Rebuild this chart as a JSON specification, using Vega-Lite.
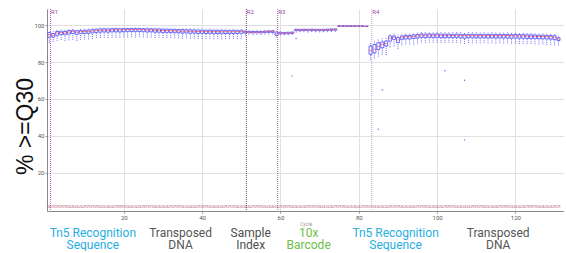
{
  "$schema": "https://vega.github.io/schema/vega-lite/v6.json",
  "padding": {"left": 14, "top": 8, "right": 0, "bottom": 0},
  "spacing": 1,
  "background": "white",
  "resolve": {"scale": {"color": "independent"}},
  "config": {"view": {"stroke": null}, "font": "Roboto"},
  "datasets": {
    "box": [
      {"c":1,"lo":90.5,"q1":93.5,"md":95,"q3":96,"hi":97,"n":"26"},
      {"c":2,"lo":91,"q1":93.5,"md":94.5,"q3":95.5,"hi":96.8,"n":"29"},
      {"c":3,"lo":91.5,"q1":94.5,"md":95.8,"q3":96.6,"hi":97.4,"n":"29"},
      {"c":4,"lo":92,"q1":95,"md":96,"q3":96.8,"hi":97.6,"n":"29"},
      {"c":5,"lo":91.5,"q1":94.8,"md":95.8,"q3":96.6,"hi":97.6,"n":"29"},
      {"c":6,"lo":91.8,"q1":95.2,"md":96.3,"q3":97.1,"hi":98,"n":"26"},
      {"c":7,"lo":92,"q1":95.5,"md":96.6,"q3":97.3,"hi":98.1,"n":"26"},
      {"c":8,"lo":91.5,"q1":95,"md":96.2,"q3":97,"hi":97.9,"n":"26"},
      {"c":9,"lo":92,"q1":95.4,"md":96.5,"q3":97.2,"hi":98,"n":"26"},
      {"c":10,"lo":92.2,"q1":95.5,"md":96.6,"q3":97.3,"hi":98.1,"n":"29"},
      {"c":11,"lo":92.3,"q1":95.6,"md":96.7,"q3":97.4,"hi":98.2,"n":"29"},
      {"c":12,"lo":92.5,"q1":95.8,"md":96.9,"q3":97.6,"hi":98.3,"n":"29"},
      {"c":13,"lo":93,"q1":96,"md":97.2,"q3":97.9,"hi":98.6,"n":"29"},
      {"c":14,"lo":93,"q1":96.2,"md":97.3,"q3":98,"hi":98.7,"n":"26"},
      {"c":15,"lo":93.2,"q1":96.3,"md":97.4,"q3":98.1,"hi":98.7,"n":"26"},
      {"c":16,"lo":93,"q1":96.2,"md":97.3,"q3":98,"hi":98.7,"n":"26"},
      {"c":17,"lo":93.2,"q1":96.4,"md":97.5,"q3":98.1,"hi":98.8,"n":"26"},
      {"c":18,"lo":93.3,"q1":96.4,"md":97.5,"q3":98.2,"hi":98.8,"n":"29"},
      {"c":19,"lo":93.2,"q1":96.3,"md":97.4,"q3":98.1,"hi":98.8,"n":"29"},
      {"c":20,"lo":93.4,"q1":96.5,"md":97.6,"q3":98.2,"hi":98.8,"n":"29"},
      {"c":21,"lo":93.4,"q1":96.5,"md":97.6,"q3":98.2,"hi":98.9,"n":"26"},
      {"c":22,"lo":93.5,"q1":96.6,"md":97.7,"q3":98.3,"hi":98.9,"n":"26"},
      {"c":23,"lo":93.3,"q1":96.5,"md":97.6,"q3":98.2,"hi":98.9,"n":"26"},
      {"c":24,"lo":93.5,"q1":96.6,"md":97.7,"q3":98.3,"hi":98.9,"n":"26"},
      {"c":25,"lo":93.4,"q1":96.5,"md":97.6,"q3":98.2,"hi":98.8,"n":"29"},
      {"c":26,"lo":93.2,"q1":96.3,"md":97.4,"q3":98.1,"hi":98.8,"n":"29"},
      {"c":27,"lo":93.3,"q1":96.4,"md":97.5,"q3":98.1,"hi":98.8,"n":"29"},
      {"c":28,"lo":93.1,"q1":96.2,"md":97.3,"q3":98,"hi":98.7,"n":"26"},
      {"c":29,"lo":93.2,"q1":96.2,"md":97.3,"q3":98,"hi":98.7,"n":"26"},
      {"c":30,"lo":93,"q1":96,"md":97.1,"q3":97.9,"hi":98.6,"n":"26"},
      {"c":31,"lo":93.1,"q1":96.1,"md":97.2,"q3":97.9,"hi":98.6,"n":"26"},
      {"c":32,"lo":93,"q1":96,"md":97,"q3":97.8,"hi":98.5,"n":"29"},
      {"c":33,"lo":92.8,"q1":95.9,"md":96.9,"q3":97.7,"hi":98.5,"n":"29"},
      {"c":34,"lo":92.9,"q1":95.9,"md":96.9,"q3":97.7,"hi":98.4,"n":"29"},
      {"c":35,"lo":92.7,"q1":95.7,"md":96.8,"q3":97.6,"hi":98.4,"n":"26"},
      {"c":36,"lo":92.8,"q1":95.8,"md":96.8,"q3":97.6,"hi":98.4,"n":"26"},
      {"c":37,"lo":92.6,"q1":95.6,"md":96.7,"q3":97.5,"hi":98.3,"n":"26"},
      {"c":38,"lo":92.7,"q1":95.7,"md":96.7,"q3":97.5,"hi":98.3,"n":"26"},
      {"c":39,"lo":92.5,"q1":95.5,"md":96.6,"q3":97.4,"hi":98.3,"n":"29"},
      {"c":40,"lo":92.6,"q1":95.6,"md":96.6,"q3":97.4,"hi":98.2,"n":"29"},
      {"c":41,"lo":92.5,"q1":95.5,"md":96.5,"q3":97.3,"hi":98.2,"n":"29"},
      {"c":42,"lo":92.6,"q1":95.6,"md":96.6,"q3":97.4,"hi":98.2,"n":"26"},
      {"c":43,"lo":92.4,"q1":95.4,"md":96.5,"q3":97.3,"hi":98.1,"n":"26"},
      {"c":44,"lo":92.5,"q1":95.5,"md":96.5,"q3":97.3,"hi":98.1,"n":"26"},
      {"c":45,"lo":92.3,"q1":95.4,"md":96.4,"q3":97.2,"hi":98.1,"n":"26"},
      {"c":46,"lo":92.5,"q1":95.5,"md":96.5,"q3":97.3,"hi":98.1,"n":"29"},
      {"c":47,"lo":92.4,"q1":95.4,"md":96.4,"q3":97.2,"hi":98,"n":"29"},
      {"c":48,"lo":92.6,"q1":95.5,"md":96.5,"q3":97.3,"hi":98.1,"n":"29"},
      {"c":49,"lo":92.5,"q1":95.5,"md":96.5,"q3":97.2,"hi":98,"n":"26"},
      {"c":50,"lo":92.7,"q1":95.6,"md":96.6,"q3":97.3,"hi":98,"n":"26"},
      {"c":51,"lo":94.5,"q1":95.8,"md":96.3,"q3":96.8,"hi":97.4,"n":"26"},
      {"c":52,"lo":94.8,"q1":95.9,"md":96.3,"q3":96.7,"hi":97.3,"n":"26"},
      {"c":53,"lo":94.6,"q1":95.8,"md":96.2,"q3":96.6,"hi":97.2,"n":"29"},
      {"c":54,"lo":94.8,"q1":95.9,"md":96.3,"q3":96.7,"hi":97.3,"n":"29"},
      {"c":55,"lo":94.7,"q1":95.8,"md":96.2,"q3":96.6,"hi":97.2,"n":"29"},
      {"c":56,"lo":94.9,"q1":96,"md":96.4,"q3":96.8,"hi":97.4,"n":"26"},
      {"c":57,"lo":95,"q1":96.1,"md":96.5,"q3":96.9,"hi":97.5,"n":"26"},
      {"c":58,"lo":95,"q1":96.1,"md":96.6,"q3":97,"hi":97.5,"n":"26"},
      {"c":59,"lo":93.5,"q1":94.5,"md":95.3,"q3":96.3,"hi":97,"n":"26"},
      {"c":60,"lo":94.5,"q1":95.3,"md":95.8,"q3":96.2,"hi":96.8,"n":"29"},
      {"c":61,"lo":94.6,"q1":95.3,"md":95.7,"q3":96.1,"hi":96.7,"n":"29"},
      {"c":62,"lo":94.7,"q1":95.4,"md":95.8,"q3":96.2,"hi":96.8,"n":"29"},
      {"c":63,"lo":94.8,"q1":95.5,"md":95.9,"q3":96.3,"hi":96.9,"n":"26"},
      {"c":64,"lo":96,"q1":97,"md":97.4,"q3":97.8,"hi":98.3,"n":"26"},
      {"c":65,"lo":96.2,"q1":97,"md":97.4,"q3":97.8,"hi":98.3,"n":"26"},
      {"c":66,"lo":96.2,"q1":97.1,"md":97.5,"q3":97.9,"hi":98.3,"n":"26"},
      {"c":67,"lo":96,"q1":97,"md":97.4,"q3":97.8,"hi":98.2,"n":"29"},
      {"c":68,"lo":96.3,"q1":97.1,"md":97.5,"q3":97.9,"hi":98.4,"n":"29"},
      {"c":69,"lo":96.2,"q1":97,"md":97.4,"q3":97.8,"hi":98.3,"n":"29"},
      {"c":70,"lo":96.1,"q1":97,"md":97.4,"q3":97.8,"hi":98.2,"n":"26"},
      {"c":71,"lo":96.2,"q1":97,"md":97.4,"q3":97.8,"hi":98.2,"n":"26"},
      {"c":72,"lo":96.2,"q1":97.1,"md":97.5,"q3":97.9,"hi":98.3,"n":"26"},
      {"c":73,"lo":96.3,"q1":97.2,"md":97.6,"q3":98,"hi":98.4,"n":"26"},
      {"c":74,"lo":96.4,"q1":97.3,"md":97.7,"q3":98,"hi":98.4,"n":"29"},
      {"c":75,"lo":99.2,"q1":99.45,"md":99.55,"q3":99.65,"hi":99.8,"n":"29"},
      {"c":76,"lo":99.2,"q1":99.45,"md":99.55,"q3":99.65,"hi":99.8,"n":"29"},
      {"c":77,"lo":99.2,"q1":99.45,"md":99.55,"q3":99.65,"hi":99.8,"n":"26"},
      {"c":78,"lo":99.2,"q1":99.45,"md":99.55,"q3":99.65,"hi":99.8,"n":"26"},
      {"c":79,"lo":99.2,"q1":99.45,"md":99.55,"q3":99.65,"hi":99.8,"n":"26"},
      {"c":80,"lo":99.2,"q1":99.45,"md":99.55,"q3":99.65,"hi":99.8,"n":"26"},
      {"c":81,"lo":99.1,"q1":99.4,"md":99.5,"q3":99.6,"hi":99.8,"n":"29"},
      {"c":82,"lo":99,"q1":99.3,"md":99.4,"q3":99.5,"hi":99.7,"n":"29"},
      {"c":83,"lo":81,"q1":84.2,"md":86.4,"q3":88.7,"hi":90.5,"n":"29"},
      {"c":84,"lo":82,"q1":85,"md":87,"q3":89.5,"hi":91.5,"n":"26"},
      {"c":85,"lo":83,"q1":86.9,"md":88.5,"q3":90.5,"hi":92.5,"n":"26"},
      {"c":86,"lo":84,"q1":87.8,"md":89.5,"q3":90.9,"hi":93,"n":"26"},
      {"c":87,"lo":85,"q1":88.7,"md":90,"q3":91.4,"hi":93.5,"n":"26"},
      {"c":88,"lo":88,"q1":91.4,"md":93,"q3":94.2,"hi":95.5,"n":"29"},
      {"c":89,"lo":88.5,"q1":92.3,"md":93.5,"q3":94.2,"hi":95.5,"n":"29"},
      {"c":90,"lo":87,"q1":90.5,"md":92,"q3":93.3,"hi":95,"n":"29"},
      {"c":91,"lo":89,"q1":92.3,"md":93.5,"q3":94.2,"hi":95.6,"n":"26"},
      {"c":92,"lo":89.5,"q1":92.5,"md":93.8,"q3":94.5,"hi":95.8,"n":"26"},
      {"c":93,"lo":89.5,"q1":92.5,"md":93.8,"q3":94.5,"hi":95.8,"n":"26"},
      {"c":94,"lo":89.5,"q1":92.8,"md":94,"q3":94.8,"hi":96,"n":"26"},
      {"c":95,"lo":90,"q1":93,"md":94.2,"q3":95,"hi":96.2,"n":"29"},
      {"c":96,"lo":90.5,"q1":93.4,"md":94.7,"q3":95.3,"hi":96.3,"n":"29"},
      {"c":97,"lo":90.4,"q1":93.3,"md":94.6,"q3":95.2,"hi":96.3,"n":"29"},
      {"c":98,"lo":90.6,"q1":93.4,"md":94.7,"q3":95.3,"hi":96.4,"n":"26"},
      {"c":99,"lo":90.5,"q1":93.3,"md":94.6,"q3":95.2,"hi":96.3,"n":"26"},
      {"c":100,"lo":90.5,"q1":93.4,"md":94.7,"q3":95.3,"hi":96.4,"n":"26"},
      {"c":101,"lo":90.4,"q1":93.3,"md":94.6,"q3":95.2,"hi":96.3,"n":"26"},
      {"c":102,"lo":90.3,"q1":93.2,"md":94.5,"q3":95.2,"hi":96.2,"n":"29"},
      {"c":103,"lo":90.5,"q1":93.3,"md":94.6,"q3":95.2,"hi":96.3,"n":"29"},
      {"c":104,"lo":90.3,"q1":93.2,"md":94.5,"q3":95.1,"hi":96.2,"n":"29"},
      {"c":105,"lo":90.4,"q1":93.3,"md":94.6,"q3":95.2,"hi":96.3,"n":"26"},
      {"c":106,"lo":90.2,"q1":93.1,"md":94.4,"q3":95.1,"hi":96.2,"n":"26"},
      {"c":107,"lo":89.8,"q1":92.9,"md":94.3,"q3":95,"hi":96.1,"n":"26"},
      {"c":108,"lo":90.3,"q1":93.2,"md":94.5,"q3":95.1,"hi":96.2,"n":"26"},
      {"c":109,"lo":90.2,"q1":93.1,"md":94.4,"q3":95.1,"hi":96.2,"n":"29"},
      {"c":110,"lo":90.3,"q1":93.2,"md":94.5,"q3":95.1,"hi":96.2,"n":"29"},
      {"c":111,"lo":90.1,"q1":93.1,"md":94.4,"q3":95,"hi":96.1,"n":"29"},
      {"c":112,"lo":90.3,"q1":93.2,"md":94.5,"q3":95.1,"hi":96.2,"n":"26"},
      {"c":113,"lo":90.1,"q1":93,"md":94.4,"q3":95,"hi":96.1,"n":"26"},
      {"c":114,"lo":90.2,"q1":93.1,"md":94.4,"q3":95.1,"hi":96.2,"n":"26"},
      {"c":115,"lo":90,"q1":93,"md":94.3,"q3":95,"hi":96.1,"n":"26"},
      {"c":116,"lo":90.1,"q1":93.1,"md":94.4,"q3":95,"hi":96.1,"n":"29"},
      {"c":117,"lo":90,"q1":93,"md":94.3,"q3":95,"hi":96,"n":"29"},
      {"c":118,"lo":90.1,"q1":93,"md":94.4,"q3":95,"hi":96.1,"n":"29"},
      {"c":119,"lo":89.9,"q1":92.9,"md":94.3,"q3":94.9,"hi":96,"n":"26"},
      {"c":120,"lo":90,"q1":93,"md":94.3,"q3":95,"hi":96,"n":"26"},
      {"c":121,"lo":89.8,"q1":92.9,"md":94.2,"q3":94.9,"hi":96,"n":"26"},
      {"c":122,"lo":89.9,"q1":92.9,"md":94.2,"q3":94.9,"hi":96,"n":"26"},
      {"c":123,"lo":89.7,"q1":92.8,"md":94.1,"q3":94.8,"hi":95.9,"n":"29"},
      {"c":124,"lo":89.8,"q1":92.8,"md":94.1,"q3":94.8,"hi":95.9,"n":"29"},
      {"c":125,"lo":89.6,"q1":92.7,"md":94,"q3":94.7,"hi":95.8,"n":"29"},
      {"c":126,"lo":89.5,"q1":92.6,"md":93.9,"q3":94.6,"hi":95.8,"n":"26"},
      {"c":127,"lo":89.6,"q1":92.6,"md":93.9,"q3":94.6,"hi":95.8,"n":"26"},
      {"c":128,"lo":89.4,"q1":92.5,"md":93.8,"q3":94.5,"hi":95.7,"n":"26"},
      {"c":129,"lo":89.3,"q1":92.4,"md":93.7,"q3":94.4,"hi":95.6,"n":"26"},
      {"c":130,"lo":89.1,"q1":92.2,"md":93.5,"q3":94.3,"hi":95.5,"n":"29"},
      {"c":131,"lo":89,"q1":91.7,"md":92.5,"q3":93.2,"hi":94.5,"n":"29"}
    ],
    "out": [
      {"c":63,"v":72.4},{"c":64,"v":92.8},{"c":85,"v":43.6},{"c":86,"v":64.9},
      {"c":87,"v":84.2},{"c":102,"v":75.3},{"c":107,"v":70.1},{"c":107,"v":37.8}
    ],
    "regions": [
      {"c":1.3,"r":"R1"},{"c":51.3,"r":"R2"},{"c":59.3,"r":"R3"},{"c":83.3,"r":"R4"}
    ],
    "labels": [
      {"c":12.1,"l":1,"t":"Tn5 Recognition","k":"Tn5"},
      {"c":12.1,"l":2,"t":"Sequence","k":"Tn5"},
      {"c":34.5,"l":1,"t":"Transposed","k":"DNA"},
      {"c":34.5,"l":2,"t":"DNA","k":"DNA"},
      {"c":52.4,"l":1,"t":"Sample","k":"Index"},
      {"c":52.4,"l":2,"t":"Index","k":"Index"},
      {"c":67.2,"l":1,"t":"10x","k":"Barcode"},
      {"c":67.2,"l":2,"t":"Barcode","k":"Barcode"},
      {"c":89.4,"l":1,"t":"Tn5 Recognition","k":"Tn5"},
      {"c":89.4,"l":2,"t":"Sequence","k":"Tn5"},
      {"c":115.6,"l":1,"t":"Transposed","k":"DNA"},
      {"c":115.6,"l":2,"t":"DNA","k":"DNA"}
    ]
  },
  "vconcat": [
    {
      "width": 517,
      "height": 202,
      "data": {"name": "box"},
      "encoding": {
        "x": {
          "field": "c", "type": "quantitative",
          "scale": {"domain": [0.4, 132.4], "nice": false, "zero": false, "padding": 0},
          "axis": {
            "values": [20, 40, 60, 80, 100, 120], "title": "Cycle",
            "titleFontSize": 5, "titleColor": "#999", "titleFontWeight": "normal", "titlePadding": 1,
            "labelFontSize": 6, "labelColor": "#555", "labelPadding": 1, "tickSize": 2,
            "tickColor": "#999", "domainColor": "#888", "gridColor": "#e0e0e0", "grid": true
          }
        }
      },
      "layer": [
        {
          "mark": {"type": "rule", "color": "#4a4aff", "strokeWidth": 0.8, "strokeDash": [1, 1]},
          "encoding": {
            "y": {
              "field": "lo", "type": "quantitative",
              "scale": {"domain": [-0.8, 108.8], "nice": false, "zero": false, "padding": 0},
              "axis": {
                "values": [20, 40, 60, 80, 100], "title": "% >=Q30",
                "titleFont": "Liberation Sans", "titleFontSize": 23, "titleFontWeight": "normal",
                "titleColor": "#111", "titleX": -15, "titleY": 117, "titleBaseline": "alphabetic",
                "labelFontSize": 6, "labelColor": "#555", "labelPadding": 1, "tickSize": 2,
                "tickColor": "#999", "domainColor": "#888", "gridColor": "#e0e0e0", "grid": true
              }
            },
            "y2": {"field": "hi"}
          }
        },
        {
          "mark": {"type": "bar", "width": 3, "fill": "white", "stroke": "#4a4aff", "strokeWidth": 0.8},
          "encoding": {
            "y": {"field": "q1", "type": "quantitative"},
            "y2": {"field": "q3"}
          }
        },
        {
          "mark": {"type": "tick", "orient": "horizontal", "size": 3.5, "thickness": 0.8, "color": "#ff3b3b"},
          "encoding": {"y": {"field": "md", "type": "quantitative"}}
        },
        {
          "mark": {"type": "text", "fontSize": 3.5, "color": "#b04a66"},
          "encoding": {"y": {"datum": 1.5, "type": "quantitative"}, "text": {"field": "n"}}
        },
        {
          "data": {"name": "out"},
          "mark": {"type": "circle", "size": 2, "color": "#5a5aff", "opacity": 1},
          "encoding": {"y": {"field": "v", "type": "quantitative"}}
        },
        {
          "data": {"name": "regions"},
          "mark": {"type": "rule", "strokeDash": [1, 1]},
          "encoding": {
            "color": {"field": "r", "type": "nominal", "legend": null,
              "scale": {"domain": ["R1", "R2", "R3", "R4"], "range": ["#d050d0", "#6a2a6a", "#9050a0", "#c98ec9"]}},
            "strokeWidth": {"field": "r", "type": "nominal", "legend": null,
              "scale": {"domain": ["R1", "R2", "R3", "R4"], "range": [1, 0.8, 1, 2]}}
          }
        },
        {
          "data": {"name": "regions"},
          "mark": {"type": "text", "align": "left", "baseline": "top", "dx": 0.5, "fontSize": 6, "color": "#9a4a9a"},
          "encoding": {
            "y": {"datum": 108.6, "type": "quantitative"},
            "text": {"field": "r"}
          }
        }
      ]
    },
    {
      "width": 517,
      "height": 24,
      "data": {"name": "labels"},
      "mark": {"type": "text", "font": "Roboto", "fontSize": 12},
      "encoding": {
        "x": {"field": "c", "type": "quantitative", "axis": null,
          "scale": {"domain": [0.4, 132.4], "nice": false, "zero": false, "padding": 0}},
        "y": {"field": "l", "type": "ordinal", "axis": null},
        "text": {"field": "t"},
        "color": {"field": "k", "type": "nominal", "legend": null,
          "scale": {"domain": ["Tn5", "DNA", "Index", "Barcode"], "range": ["#27aee3", "#555555", "#4d4d4d", "#6cc04a"]}}
      }
    }
  ]
}
